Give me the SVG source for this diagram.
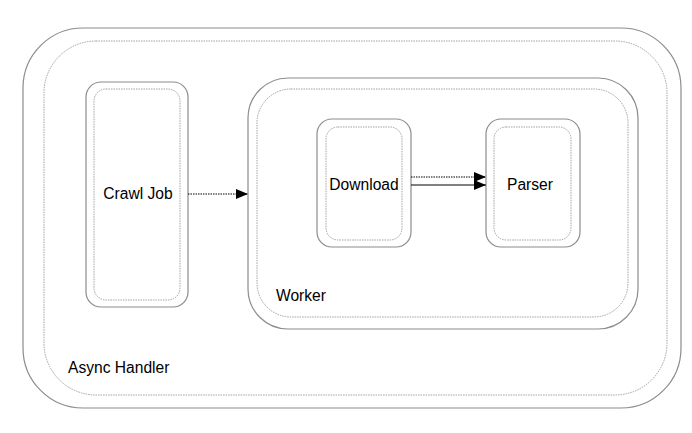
<svg xmlns="http://www.w3.org/2000/svg" width="692" height="433" viewBox="0 0 692 433">
<style>
.solid{fill:none;stroke:#8c8c8c;stroke-width:1.2}
.dot{fill:none;stroke:#8c8c8c;stroke-width:0.8;stroke-dasharray:1.5 1}
text{font-family:"Liberation Sans",Arial,sans-serif;font-size:15.6px;fill:#000}
.edge{stroke:#000;stroke-width:1;fill:none}
</style>
<defs>
<marker id="ah" viewBox="0 0 12 10" refX="12" refY="5" markerWidth="12" markerHeight="10" markerUnits="userSpaceOnUse" orient="auto">
<path d="M0,0 L12,5 L0,10 Z" fill="#000"/>
</marker>
</defs>
<rect width="692" height="433" fill="#fff"/>
<g id="async-handler">
<rect class="solid" x="23" y="28" width="658" height="380" rx="60"/>
<rect class="dot" x="44" y="41" width="623" height="354" rx="52"/>
<text x="68" y="373">Async Handler</text>
</g>
<g id="crawl-job">
<rect class="solid" x="86" y="82" width="102" height="225" rx="15"/>
<rect class="dot" x="94" y="89" width="86" height="211" rx="12"/>
<text x="138" y="199" text-anchor="middle">Crawl Job</text>
</g>
<g id="worker">
<rect class="solid" x="248" y="78" width="390" height="251" rx="40"/>
<rect class="dot" x="257" y="89" width="371" height="228" rx="34"/>
<text x="276" y="301">Worker</text>
</g>
<g id="download">
<rect class="solid" x="317" y="119" width="94" height="128" rx="15"/>
<rect class="dot" x="326" y="127" width="76" height="113" rx="12"/>
<text x="364" y="190" text-anchor="middle">Download</text>
</g>
<g id="parser">
<rect class="solid" x="486" y="119" width="94" height="128" rx="15"/>
<rect class="dot" x="494" y="127" width="77" height="113" rx="12"/>
<text x="530" y="190" text-anchor="middle">Parser</text>
</g>
<g id="connectors">
<path class="edge" d="M188,194 L248,194" stroke-dasharray="1.5 1" marker-end="url(#ah)"/>
<path class="edge" d="M411,177 L486,177" stroke-dasharray="1.5 1" marker-end="url(#ah)"/>
<path class="edge" d="M411,185 L486,185" marker-end="url(#ah)"/>
</g>
</svg>
